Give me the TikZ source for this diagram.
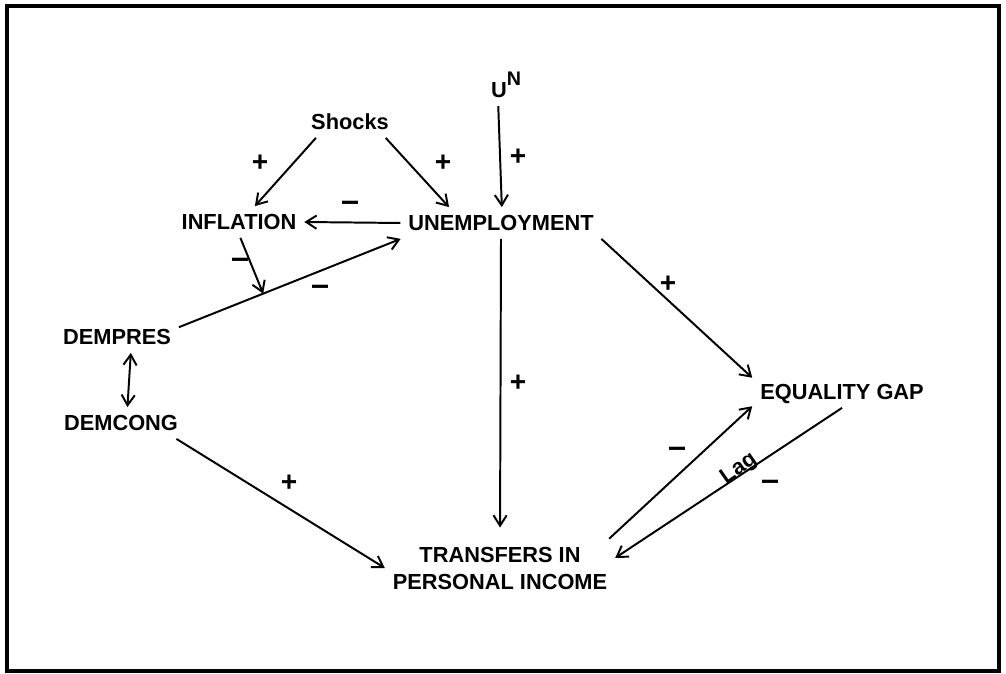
\documentclass[tikz,border=0pt]{standalone}
\usepackage{fontspec}
\setmainfont{Liberation Sans}
\usetikzlibrary{arrows.meta}
\begin{document}
\begin{tikzpicture}[>={Straight Barb[length=2.6mm,width=3.3mm]}, x=0.025cm, y=-0.025cm,
    font=\bfseries\fontsize{15.5}{19.2}\selectfont, line width=1.4pt,
    var/.style={inner sep=5pt, text height=11.2pt, text depth=0pt},
    sign/.style={font=\bfseries\fontsize{20}{20}\selectfont, inner sep=0pt},
    minus/.style={font=\bfseries\fontsize{23}{23}\selectfont, inner sep=0pt}]
    \useasboundingbox (0,0) rectangle (1006,674);
    \draw[line width=2.9pt] (7,6) rectangle (999,671);
    % variables
    \node[var] (shocks) at (350,122) {Shocks};
    \node[inner sep=5pt, anchor=base west] (un) at (483,98) {U\raisebox{9pt}{\fontsize{14}{14}\selectfont N}};
    \node[var] (infl) at (239,222) {INFLATION};
    \node[var] (unemp) at (501,223) {UNEMPLOYMENT};
    \node[var] (dempres) at (117,337) {DEMPRES};
    \node[var] (demcong) at (121,423) {DEMCONG};
    \node[var] (eqgap) at (842,392) {EQUALITY GAP};
    \node[inner sep=5pt, align=center] (transf) at (500,568) {TRANSFERS IN\\PERSONAL INCOME};
    % links
    \draw[->] (shocks.205) -- (infl.45);
    \draw[->] (shocks.336) -- (unemp.163);
    \draw[->] (un.250) -- (unemp.87);
    \draw[->] (unemp.west) -- (infl.east);
    \draw[->] (dempres.9) -- (unemp.189) coordinate[pos=0.38] (hit);
    \draw[->] (infl.275) -- (hit);
    \draw[<->] (dempres.311) -- (demcong.68);
    \draw[->] (demcong.344) -- (transf.west);
    \draw[->, shorten >=8pt] (unemp.south) -- (transf.north);
    \draw[->] (unemp.351) -- (eqgap.171);
    \draw[->] (transf.15) -- (eqgap.189);
    \draw[->] (eqgap.south) -- (transf.5);
    % signs
    \node[sign] (s1) at (260,163) {+};
    \node[sign] (s2) at (443,163) {+};
    \node[sign] (s3) at (518,157) {+};
    \node[minus] (s4) at (350,206) {–};
    \node[minus] (s5) at (240,263) {–};
    \node[minus] (s6) at (320,290) {–};
    \node[sign] (s7) at (289,483) {+};
    \node[sign] (s8) at (518,383) {+};
    \node[sign] (s9) at (668,284) {+};
    \node[minus] (s10) at (677,452) {–};
    \node[minus] (s11) at (770,485) {–};
    \node[rotate=35, inner sep=0pt] (lag) at (739,469) {Lag};
\end{tikzpicture}
\end{document}
